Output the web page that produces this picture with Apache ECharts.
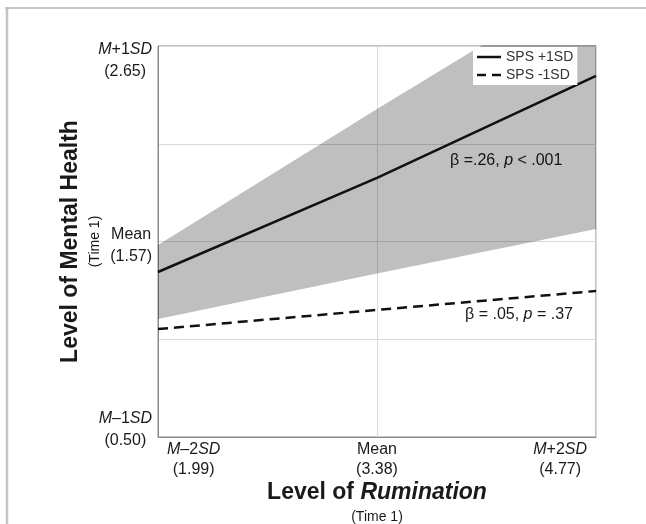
<!DOCTYPE html>
<html>
<head>
<meta charset="utf-8">
<script src="https://cdn.jsdelivr.net/npm/echarts@6/dist/echarts.min.js"></script>
<style>
html, body { margin: 0; padding: 0; background: #fff; }
#main { width: 646px; height: 524px; }
</style>
</head>
<body>
<div id="main"></div>
<script>
// x: level of rumination, three probe points
var categories = ['M–2SD', 'Mean', 'M+2SD'];
var categoryValues = ['(1.99)', '(3.38)', '(4.77)'];
// y axis runs in SD units of mental health (-1 .. +1)
var yTicks = [-1, 0, 1];
var yTickNames = ['M–1SD', 'Mean', 'M+1SD'];
var yTickValues = ['(0.50)', '(1.57)', '(2.65)'];

var spsHigh = [-0.156, 0.325, 0.847];
var spsLow = [-0.448, -0.350, -0.253];
var bandLower = [-0.396, -0.164, 0.064];
var bandUpper = [-0.018, 0.678, 1.358];

var FONT = '"Liberation Sans", Arial, Helvetica, sans-serif';
var INK = '#1a1a1a';

// 'M–2SD' -> italic M and SD, upright middle
function sdLabel(s) {
    if (s.charAt(0) === 'M' && s.slice(-2) === 'SD') {
        return '{i|M}{r|' + s.slice(1, -2) + '}{i|SD}';
    }
    return '{r|' + s + '}';
}

function richFor(lh) {
    return {
        i: { fontStyle: 'italic', fontSize: 16, color: INK, fontFamily: FONT, align: 'center', lineHeight: lh },
        r: { fontSize: 16, color: INK, fontFamily: FONT, align: 'center', lineHeight: lh },
        e: { fontSize: 16, lineHeight: lh }
    };
}

var bandDiff = [];
for (var i = 0; i < bandUpper.length; i++) {
    bandDiff.push(bandUpper[i] - bandLower[i]);
}

var chart = echarts.init(document.getElementById('main'));
var option = {
    backgroundColor: '#fff',
    animation: false,
    textStyle: { fontFamily: FONT },
    grid: {
        left: 158, top: 46, right: 50, bottom: 87,
        outerBoundsMode: 'none',
        containLabel: false,
        show: true, borderColor: '#8a8a8a', borderWidth: 1
    },
    legend: {
        data: [
            { name: 'SPS +1SD', icon: 'path://M0,0H24V2.5H0Z' },
            { name: 'SPS -1SD', icon: 'path://M0,0H9V2.5H0Z M15,0H24V2.5H15Z' }
        ],
        orient: 'vertical',
        left: 473, top: 47,
        backgroundColor: '#fff',
        padding: [3, 4, 3, 4],
        itemWidth: 24, itemHeight: 14, itemGap: 4,
        textStyle: { fontSize: 14, color: '#333', fontFamily: FONT }
    },
    xAxis: {
        type: 'category',
        data: categories,
        boundaryGap: false,
        axisLine: { onZero: false, lineStyle: { color: '#8a8a8a' } },
        axisTick: { show: false },
        splitLine: { show: true, lineStyle: { color: '#d9d9d9' } },
        axisLabel: {
            interval: 0,
            margin: 3,
            padding: [0, 9, 0, 9],
            alignMinLabel: 'left',
            alignMaxLabel: 'right',
            lineHeight: 20,
            rich: richFor(20),
            formatter: function (v, idx) {
                return sdLabel(v) + '\n{r|' + categoryValues[idx] + '}';
            }
        },
        name: '{b|Level of }{bi|Rumination}\n{s|(Time 1)}',
        nameLocation: 'middle',
        nameGap: 43,
        nameMoveOverlap: false,
        nameTextStyle: {
            rich: {
                b: { fontSize: 23, fontWeight: 'bold', color: INK, fontFamily: FONT, lineHeight: 26 },
                bi: { fontSize: 23, fontWeight: 'bold', fontStyle: 'italic', color: INK, fontFamily: FONT, lineHeight: 26 },
                s: { fontSize: 14, color: INK, fontFamily: FONT, lineHeight: 22 }
            }
        }
    },
    yAxis: {
        type: 'value',
        min: -1, max: 1, interval: 0.5,
        axisLine: { show: true, lineStyle: { color: '#8a8a8a' } },
        axisTick: { show: false },
        splitLine: { lineStyle: { color: '#d9d9d9' } },
        axisLabel: {
            margin: 6,
            lineHeight: 22,
            padding: [8, 0, 0, 0],
            rich: richFor(22),
            formatter: function (v) {
                var k = yTicks.indexOf(v);
                if (k < 0) return '';
                var txt = sdLabel(yTickNames[k]) + '\n{r|' + yTickValues[k] + '}';
                if (k === yTicks.length - 1) txt = '{e| }\n' + txt;
                if (k === 0) txt = txt + '\n{e| }';
                return txt;
            }
        },
        name: '{b|Level of Mental Health}\n{s|(Time 1)}',
        nameLocation: 'middle',
        nameRotate: 90,
        nameGap: 52,
        nameMoveOverlap: false,
        nameTextStyle: {
            rich: {
                b: { fontSize: 23, fontWeight: 'bold', color: INK, fontFamily: FONT, lineHeight: 26 },
                s: { fontSize: 14, color: INK, fontFamily: FONT, lineHeight: 22 }
            }
        }
    },
    series: [
        {
            name: 'ciBase',
            type: 'line',
            data: bandLower,
            stack: 'ci',
            stackStrategy: 'all',
            symbol: 'none',
            silent: true,
            lineStyle: { opacity: 0 }
        },
        {
            name: 'ci',
            type: 'line',
            data: bandDiff,
            stack: 'ci',
            stackStrategy: 'all',
            symbol: 'none',
            silent: true,
            lineStyle: { opacity: 0 },
            areaStyle: { color: 'rgba(0,0,0,0.25)', opacity: 1 }
        },
        {
            name: 'SPS +1SD',
            type: 'line',
            data: spsHigh,
            symbol: 'none',
            color: '#111',
            lineStyle: { color: '#111', width: 2.5 }
        },
        {
            name: 'SPS -1SD',
            type: 'line',
            data: spsLow,
            symbol: 'none',
            color: '#111',
            lineStyle: { color: '#111', width: 2.5, type: [10, 6] }
        }
    ],
    graphic: [
        // outer frame of the figure
        { type: 'line', shape: { x1: 5, y1: 8, x2: 646, y2: 8 }, style: { stroke: '#b0b0b0', lineWidth: 1.5 } },
        { type: 'line', shape: { x1: 7, y1: 8, x2: 7, y2: 524 }, style: { stroke: '#c4c4c4', lineWidth: 2.5 } },
        {
            type: 'text', left: 450, top: 153,
            style: {
                text: 'β =.26, {i|p} < .001',
                fontSize: 16, fontFamily: FONT, fill: INK,
                rich: { i: { fontStyle: 'italic', fontSize: 16, fontFamily: FONT, fill: INK } }
            }
        },
        {
            type: 'text', left: 465, top: 307,
            style: {
                text: 'β = .05, {i|p} = .37',
                fontSize: 16, fontFamily: FONT, fill: INK,
                rich: { i: { fontStyle: 'italic', fontSize: 16, fontFamily: FONT, fill: INK } }
            }
        }
    ]
};
chart.setOption(option);
</script>
</body>
</html>
